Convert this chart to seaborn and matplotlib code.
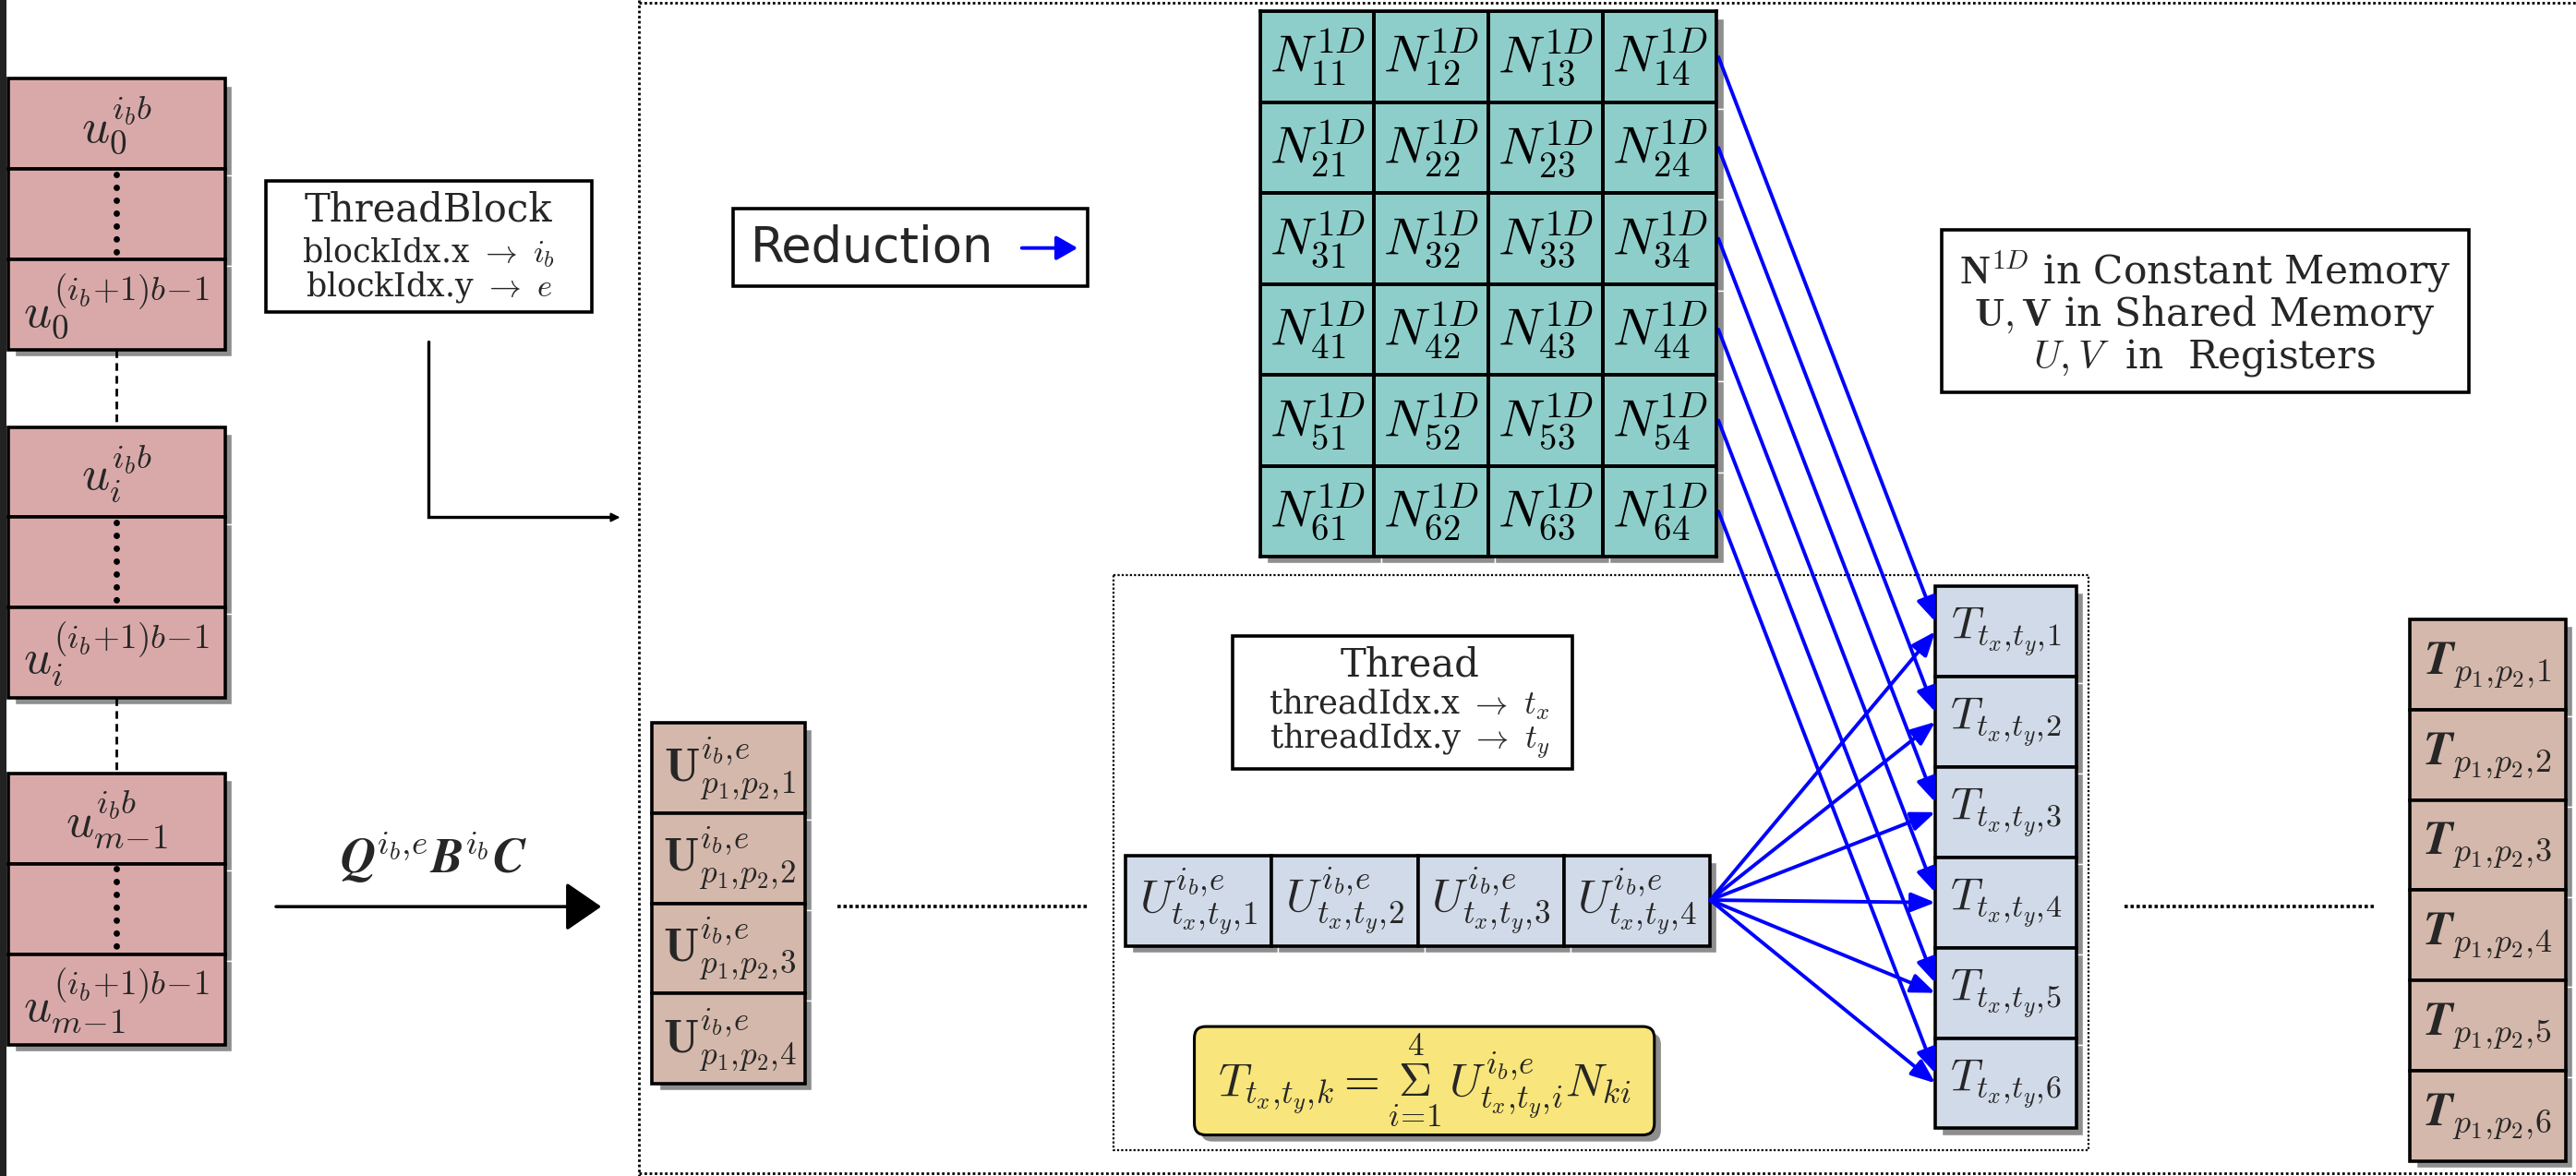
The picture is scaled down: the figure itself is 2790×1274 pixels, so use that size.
import numpy as np
import matplotlib
matplotlib.use("Agg")
import matplotlib.pyplot as plt
import seaborn as sns
from matplotlib.patches import Rectangle, FancyBboxPatch, FancyArrowPatch
from matplotlib.colors import ListedColormap

# ---------------- data (labels) ----------------
left_labels = [r'$u_0^{i_b b}$', '', r'$u_0^{(i_b\!+\!1)b\!-\!1}$',
               r'$u_i^{i_b b}$', '', r'$u_i^{(i_b\!+\!1)b\!-\!1}$',
               r'$u_{m\!-\!1}^{i_b b}$', '', r'$u_{m\!-\!1}^{(i_b\!+\!1)b\!-\!1}$']
u_labels = [r'$\mathbf{U}_{p_1,\!p_2,\!%d}^{i_b,\!e}$' % k for k in range(1, 5)]
n_rows = [1, 2, 3, 4, 5, 6]
n_cols = [1, 2, 3, 4]
n_labels = [[r'$N_{%d%d}^{1D}$' % (r, c) for c in n_cols] for r in n_rows]
ut_labels = [r'$U_{t_x,\!t_y,\!%d}^{i_b,\!e}$' % k for k in range(1, 5)]
t_labels = [r'$T_{t_x,\!t_y,\!%d}$' % k for k in range(1, 7)]
tp_labels = [r'$\boldsymbol{T}_{p_1,\!p_2,\!%d}$' % k for k in range(1, 7)]
block_lines = ['ThreadBlock', r'blockIdx.x $\rightarrow$ $i_b$', r'blockIdx.y $\rightarrow$ $e$']
thread_lines = ['Thread', r'threadIdx.x $\rightarrow$ $t_x$', r'threadIdx.y $\rightarrow$ $t_y$']
memory_lines = [r'$\mathbf{N}^{1D}$ in Constant Memory',
                r'$\mathbf{U},\mathbf{V}$ in Shared Memory',
                r'$U,V$  in  Registers']
transform_label = r'$\boldsymbol{Q}^{i_b,\!e}\boldsymbol{B}^{i_b}\boldsymbol{C}$'
formula_label = (r'$T_{t_x,\!t_y,\!k}=\overset{4}{\underset{i\!=\!1}{\Sigma}}'
                 r'\,U_{t_x,\!t_y,\!i}^{i_b,\!e}N_{ki}$')
reduction_label = 'Reduction'

# ---------------- style ----------------
sns.set_theme(style="white")
plt.rcParams['font.family'] = ['DejaVu Serif']
plt.rcParams['mathtext.fontset'] = 'cm'

PINK = '#D9A9A9'
TAN = '#D4B8AB'
TEAL = '#8ECECA'
LBLUE = '#D1DAE8'
YELLOW = '#F8E57B'
SHADOW = '#8E8E8E'
BLUE = '#0000FF'

W, H = 1568, 716
fig = plt.figure(figsize=(27.9, 12.74), dpi=100)
ax = fig.add_axes([0, 0, 1, 1])
ax.set_xlim(0, W)
ax.set_ylim(H, 0)
ax.axis('off')

def box(x, y, w, h, fc, lw=2.6, shadow=True, off=4):
    if shadow:
        ax.add_patch(Rectangle((x + off, y + off), w, h, fc=SHADOW, ec='white', lw=1.0, zorder=1))
    ax.add_patch(Rectangle((x, y), w, h, fc=fc, ec='black', lw=lw, zorder=2))

# left dark bar
ax.add_patch(Rectangle((0, 0), 4, H, fc='#222222', ec='none', zorder=0))

# ---------------- left column ----------------
lx, lw_, lh = 5, 132, 55
group_tops = [48, 260, 471]
for g, gt in enumerate(group_tops):
    for j in range(3):
        y = gt + j * lh
        box(lx, y, lw_, lh, PINK)
        lab = left_labels[g * 3 + j]
        if lab:
            ax.text(lx + lw_ / 2, y + lh / 2 + 1, lab, ha='center', va='center', fontsize=38, zorder=3)
        else:
            ax.plot([lx + lw_ / 2, lx + lw_ / 2], [y + 3, y + lh - 3], color='black', lw=5,
                    linestyle=(0, (0.01, 2.0)), dash_capstyle='round', zorder=3)
    if g < 2:
        ax.plot([lx + lw_ / 2, lx + lw_ / 2], [gt + 3 * lh, group_tops[g + 1]], color='black',
                lw=2, linestyle=(0, (3, 2)), zorder=3)

# ---------------- ThreadBlock box ----------------
box(162, 110, 198, 80, 'white', shadow=False)
ax.text(261, 128, block_lines[0], ha='center', va='center', fontsize=30, zorder=3)
ax.text(261, 154, block_lines[1], ha='center', va='center', fontsize=25, zorder=3)
ax.text(261, 175, block_lines[2], ha='center', va='center', fontsize=25, zorder=3)

# L-shaped arrow
ax.plot([261, 261, 372], [208, 315, 315], color='black', lw=2.4, zorder=3, solid_joinstyle='miter')
ax.add_patch(FancyArrowPatch((360, 315), (379, 315), arrowstyle='-|>', mutation_scale=14,
                             color='black', lw=1.5, zorder=3))

# ---------------- outer dotted frame ----------------
dot = dict(color='black', lw=2.0, linestyle=(0, (1, 1)), zorder=0)
ax.plot([389, 389], [0, H], **dot)
ax.plot([389, W], [1.5, 1.5], **dot)
ax.plot([389, W], [H - 1.5, H - 1.5], **dot)

# ---------------- transform arrow ----------------
ax.text(264, 522, transform_label, ha='center', va='center', fontsize=38, zorder=3)
ax.add_patch(FancyArrowPatch((168, 552), (366, 552),
                             arrowstyle='-|>,head_length=0.8,head_width=0.55',
                             mutation_scale=30, color='black', lw=2.5, zorder=3,
                             shrinkA=0, shrinkB=0))

# ---------------- U boxes ----------------
for k, lab in enumerate(u_labels):
    y = 440 + k * 55
    box(397, y, 93, 55, TAN)
    ax.text(444, y + 28, lab, ha='center', va='center', fontsize=36, zorder=3)

# dotted horizontal connectors
ax.plot([510, 662], [552, 552], color='black', lw=2.6, linestyle=(0, (1, 0.8)), zorder=3)
ax.plot([1293, 1445], [552, 552], color='black', lw=2.6, linestyle=(0, (1, 0.8)), zorder=3)

# ---------------- Reduction box ----------------
box(446, 127, 216, 47, 'white', shadow=False)
ax.text(457, 151, reduction_label, ha='left', va='center', fontsize=38,
        family='DejaVu Sans', zorder=3)
ax.add_patch(FancyArrowPatch((622, 151), (656, 151), arrowstyle='-|>,head_length=0.7,head_width=0.4',
                             mutation_scale=20, color=BLUE, lw=2.8, zorder=3, shrinkA=0, shrinkB=0))

# ---------------- N grid (seaborn heatmap) ----------------
gx0, gy0, gx1, gy1 = 767, 7, 1045, 339
cw = (gx1 - gx0) / len(n_cols)
rh = (gy1 - gy0) / len(n_rows)
for r in range(len(n_rows)):
    for c in range(len(n_cols)):
        ax.add_patch(Rectangle((gx0 + c * cw + 4, gy0 + r * rh + 4), cw, rh,
                               fc=SHADOW, ec='white', lw=1.0, zorder=1))
hax = fig.add_axes([gx0 / W, 1 - gy1 / H, (gx1 - gx0) / W, (gy1 - gy0) / H])
sns.heatmap(np.zeros((len(n_rows), len(n_cols))), ax=hax, cmap=ListedColormap([TEAL]),
            annot=np.array(n_labels), fmt='', cbar=False, linewidths=2.6, linecolor='black',
            annot_kws={'fontsize': 40, 'color': 'black'}, xticklabels=False, yticklabels=False)
for sp in hax.spines.values():
    sp.set_visible(True)
    sp.set_color('black')
    sp.set_linewidth(2.6)

# ---------------- Thread dotted frame ----------------
tdot = dict(color='black', lw=1.6, linestyle=(0, (1, 1)), zorder=0)
ax.plot([678, 1271, 1271, 678, 678], [350, 350, 700, 700, 350], **tdot)

# Thread box
box(750, 387, 207, 81, 'white', shadow=False)
ax.text(858, 405, thread_lines[0], ha='center', va='center', fontsize=30, zorder=3)
ax.text(858, 429, thread_lines[1], ha='center', va='center', fontsize=25.5, zorder=3)
ax.text(858, 451, thread_lines[2], ha='center', va='center', fontsize=25.5, zorder=3)

# U thread boxes
ux0, uw = 685, 89
for k, lab in enumerate(ut_labels):
    x = ux0 + k * uw
    box(x, 521, uw, 55, LBLUE)
    ax.text(x + uw / 2, 549, lab, ha='center', va='center', fontsize=36, zorder=3)

# formula box
ax.add_patch(FancyBboxPatch((731, 629), 280, 66, boxstyle='round,pad=0,rounding_size=7',
                            fc=SHADOW, ec='none', zorder=1))
ax.add_patch(FancyBboxPatch((727, 625), 280, 66, boxstyle='round,pad=0,rounding_size=7',
                            fc=YELLOW, ec='black', lw=2.2, zorder=2))
ax.text(867, 658, formula_label, ha='center', va='center', fontsize=36, zorder=3)

# T boxes
tx0, tw, th, ty0 = 1178, 86, 55, 357
for k, lab in enumerate(t_labels):
    y = ty0 + k * th
    box(tx0, y, tw, th, LBLUE)
    ax.text(tx0 + tw / 2, y + th / 2, lab, ha='center', va='center', fontsize=35, zorder=3)

arrow_style = '-|>,head_length=0.75,head_width=0.3'
# blue arrows: N rows -> T
for k in range(len(n_rows)):
    ys = gy0 + (k + 0.5) * rh
    ye = ty0 + (k + 0.5) * th - 6
    ax.add_patch(FancyArrowPatch((gx1 + 1, ys), (tx0, ye), arrowstyle=arrow_style,
                                 mutation_scale=21, color=BLUE, lw=2.8, zorder=4, shrinkA=0, shrinkB=0))
# blue arrows: U4 -> T
for k in range(len(t_labels)):
    ye = ty0 + (k + 0.5) * th
    ax.add_patch(FancyArrowPatch((ux0 + 4 * uw, 548), (tx0, ye), arrowstyle=arrow_style,
                                 mutation_scale=21, color=BLUE, lw=2.8, zorder=4, shrinkA=0, shrinkB=0))

# right T boxes
for k, lab in enumerate(tp_labels):
    y = 377 + k * 55
    box(1467, y, 95, 55, TAN)
    ax.text(1514, y + 28, lab, ha='center', va='center', fontsize=37, zorder=3)

# memory legend box
box(1182, 140, 321, 99, 'white', shadow=False)
for i, line in enumerate(memory_lines):
    ax.text(1342, 165 + i * 26.5, line, ha='center', va='center', fontsize=30.5, zorder=3)

fig.savefig('out.png', dpi=100)
